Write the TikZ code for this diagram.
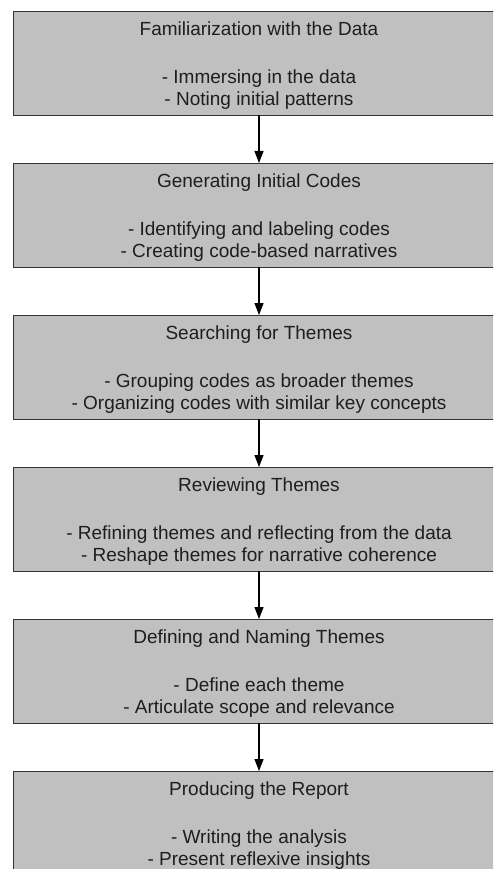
\documentclass[tikz,border=0pt]{standalone}
\usepackage{fontspec}
\setmainfont{Liberation Sans}
\usepackage{xcolor}
\usepackage{tikz}
\usetikzlibrary{arrows.meta,positioning}
\definecolor{stageFill}{HTML}{C0C0C0}
\definecolor{stageLine}{HTML}{333333}
\definecolor{stageText}{HTML}{1E1E1E}
\newcommand{\stagetop}{\rule{0pt}{18.5pt}}

\begin{document}
\begin{tikzpicture}[
  x=1pt,y=1pt,
  node distance=48pt,
  stage/.style={rectangle,draw=stageLine,fill=stageFill,line width=0.9pt,align=center,minimum width=492pt,minimum height=104pt,inner sep=0pt,outer sep=0pt,text=stageText,font=\fontsize{19}{22}\selectfont},
  arrow/.style={-{Triangle[length=12pt,width=9pt]},line width=1.1pt,color=black}
]
\clip (0,0) rectangle (493,-869);
\useasboundingbox (0,0) rectangle (493,-869);
\node[stage] (fam) at (259,-63) {\stagetop Familiarization with the Data\\[26pt]- Immersing in the data\\- Noting initial patterns};
\node[stage,below=of fam] (gen) {\stagetop Generating Initial Codes\\[26pt]- Identifying and labeling codes\\- Creating code-based narratives};
\node[stage,below=of gen] (search) {\stagetop Searching for Themes\\[26pt]- Grouping codes as broader themes\\- Organizing codes with similar key concepts};
\node[stage,below=of search] (review) {\stagetop Reviewing Themes\\[26pt]- Refining themes and reflecting from the data\\- Reshape themes for narrative coherence};
\node[stage,below=of review] (define) {\stagetop Defining and Naming Themes\\[26pt]- Define each theme\\- Articulate scope and relevance};
\node[stage,below=of define] (report) {\stagetop Producing the Report\\[26pt]- Writing the analysis\\- Present reflexive insights};
\draw[arrow] (fam) -- (gen);
\draw[arrow] (gen) -- (search);
\draw[arrow] (search) -- (review);
\draw[arrow] (review) -- (define);
\draw[arrow] (define) -- (report);
\end{tikzpicture}
\end{document}
